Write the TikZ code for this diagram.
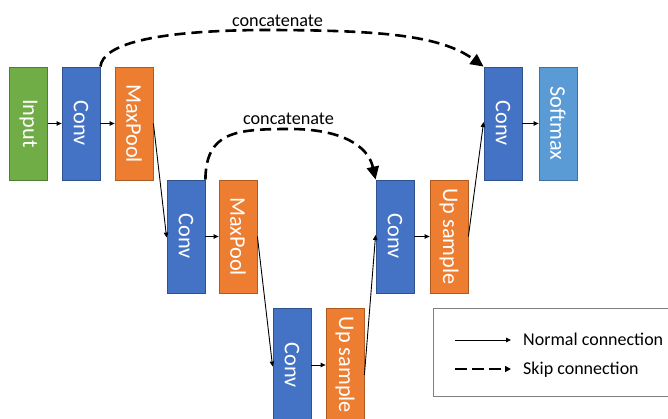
\documentclass[tikz,border=0pt]{standalone}
\usepackage{fontspec}
\setmainfont{Carlito}
\usetikzlibrary{arrows.meta}
\definecolor{ingreen}{HTML}{70AD47}
\definecolor{ingreenb}{HTML}{507E32}
\definecolor{convblue}{HTML}{4472C4}
\definecolor{convblueb}{HTML}{2F528F}
\definecolor{poolorange}{HTML}{ED7D31}
\definecolor{poolorangeb}{HTML}{AE5A21}
\definecolor{softblue}{HTML}{5B9BD5}
\definecolor{softblueb}{HTML}{41719C}
\definecolor{legendgray}{HTML}{7F7F7F}
\tikzset{
  layer/.style={minimum width=38pt, minimum height=113pt, inner sep=0pt,
    line width=0.8pt, text=white, font=\fontsize{22.3}{24}\selectfont},
  inputbox/.style={layer, fill=ingreen, draw=ingreenb},
  convbox/.style={layer, fill=convblue, draw=convblueb},
  poolbox/.style={layer, fill=poolorange, draw=poolorangeb},
  softbox/.style={layer, fill=softblue, draw=softblueb},
  normal/.style={line width=0.9pt, -{Triangle[length=5pt,width=4.5pt]}},
  skip/.style={line width=2.6pt, dash pattern=on 11pt off 6pt,
    -{Triangle[length=13pt,width=12pt]}},
  catlabel/.style={font=\fontsize{18.2}{20}\selectfont, anchor=base, inner sep=0pt},
  legendtext/.style={font=\fontsize{18}{20}\selectfont, anchor=base west, inner sep=0pt}
}
\begin{document}
\begin{tikzpicture}[x=1pt, y=-1pt]
  \useasboundingbox (0,0) rectangle (668,419);
  \clip (0,0) rectangle (668,419);

  % encoder
  \node[inputbox] (input) at (28.5,123.5) {\rotatebox{-90}{Input}};
  \node[convbox]  (conv1) at (81,123.5)   {\rotatebox{-90}{Conv}};
  \node[poolbox]  (pool1) at (134,123.5)  {\rotatebox{-90}{MaxPool}};
  \node[convbox]  (conv2) at (186,236.5)  {\rotatebox{-90}{Conv}};
  \node[poolbox]  (pool2) at (238,236.5)  {\rotatebox{-90}{MaxPool}};
  % bottleneck
  \node[convbox]  (conv3) at (292,365)    {\rotatebox{-90}{Conv}};
  \node[poolbox]  (up1)   at (345,365)    {\rotatebox{-90}{Up sample}};
  % decoder
  \node[convbox]  (conv4) at (395,236.5)  {\rotatebox{-90}{Conv}};
  \node[poolbox]  (up2)   at (449,236.5)  {\rotatebox{-90}{Up sample}};
  \node[convbox]  (conv5) at (503,123.5)  {\rotatebox{-90}{Conv}};
  \node[softbox]  (soft)  at (558,123.5)  {\rotatebox{-90}{Softmax}};

  % normal connections
  \draw[normal] (input.east) -- (conv1.west);
  \draw[normal] (conv1.east) -- (pool1.west);
  \draw[normal] (pool1.east) -- ([yshift=-1pt]conv2.west);
  \draw[normal] (conv2.east) -- (pool2.west);
  \draw[normal] (pool2.east) -- ([yshift=-1.5pt]conv3.west);
  \draw[normal] (conv3.east) -- (up1.west);
  \draw[normal] ([yshift=-10pt]up1.east) -- ([yshift=1.5pt]conv4.west);
  \draw[normal] (conv4.east) -- (up2.west);
  \draw[normal] (up2.east) -- ([yshift=1.5pt]conv5.west);
  \draw[normal] (conv5.east) -- (soft.west);

  % skip connections
  \draw[skip] (conv1.north east) .. controls (103,45) and (150,31) .. (260,30)
              .. controls (380,30) and (440,35) .. (conv5.north west);
  \draw[skip] (conv2.north east) .. controls (206,132) and (235,129) .. (290,129)
              .. controls (340,129) and (368,145) .. (conv4.north west);
  \node[catlabel] (cat1) at (277.5,26.5) {concatenate};
  \node[catlabel] (cat2) at (288.5,124.5) {concatenate};

  % legend
  \draw[legendgray, line width=0.9pt] (433,308.5) rectangle (690,396);
  \coordinate (ns) at (455,340);
  \coordinate (ne) at (511,340);
  \coordinate (ks) at (455,369);
  \coordinate (ke) at (511,369);
  \draw[normal] (ns) -- (ne);
  \draw[line width=2pt, dash pattern=on 12pt off 5pt,
        -{Triangle[length=6pt,width=6pt]}] (ks) -- (ke);
  \node[legendtext] (nlab) at (523,345) {Normal connection};
  \node[legendtext] (klab) at (523,374) {Skip connection};
\end{tikzpicture}
\end{document}
